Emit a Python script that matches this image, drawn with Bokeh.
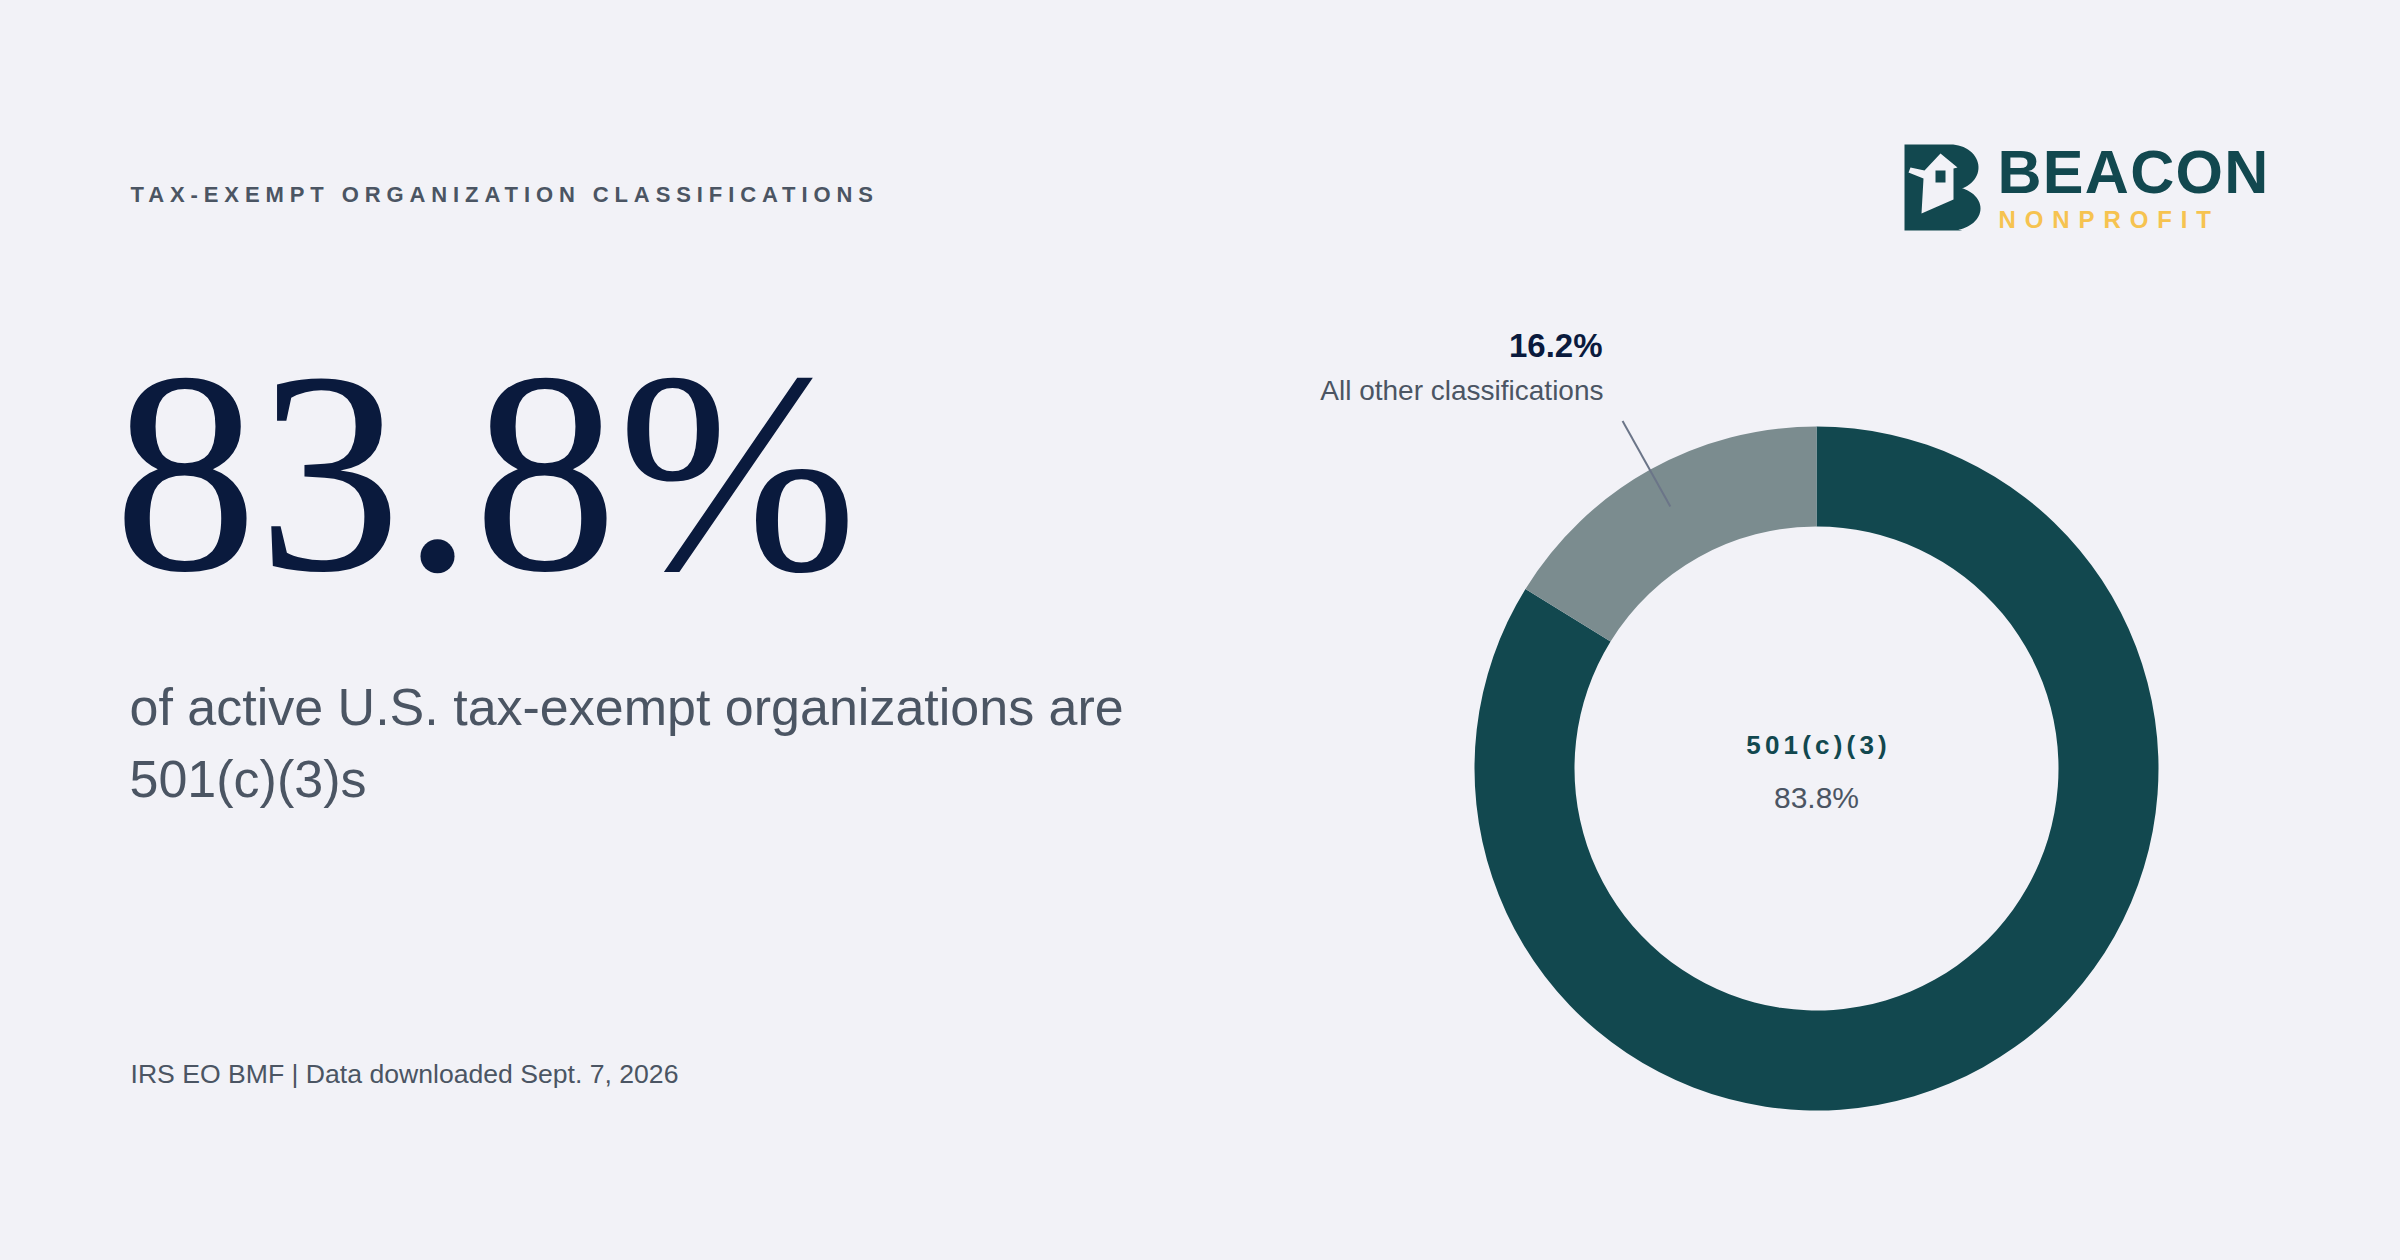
import numpy as np
from bokeh.plotting import figure
from bokeh.models import Range1d, CustomJS
from bokeh.core.properties import value
from bokeh.document import Document
from bokeh.embed import file_html
from bokeh.resources import INLINE

# ---------------- data ----------------
categories = ["501(c)(3)", "All other classifications"]
shares = [83.8, 16.2]
slice_colors = ["#12484f", "#7b8c8f"]

headline_value = shares[0]
title_text = "TAX-EXEMPT ORGANIZATION CLASSIFICATIONS"
subtitle_lines = ["of active U.S. tax-exempt organizations are", "501(c)(3)s"]
source_text = "IRS EO BMF | Data downloaded Sept. 7, 2026"
brand_name = "BEACON"
brand_sub = "NONPROFIT"

# ---------------- styling ----------------
W, H = 2384, 1244
BG = "#f2f2f7"
NAVY = "#0a1a3d"
SLATE = "#4b5563"
TEAL = "#12484f"
GOLD = "#f6c350"
SANS = value("Liberation Sans")
SERIF = value("Liberation Serif")
BASE_FIX = 0.35  # baseline correction (in em) for svg text placement

p = figure(width=W, height=H, x_range=Range1d(0, W), y_range=Range1d(0, H),
           output_backend="svg", toolbar_location=None, min_border=0,
           background_fill_color=BG, border_fill_color=BG)
p.axis.visible = False
p.grid.visible = False
p.outline_line_color = None


def X(ref_x):
    return ref_x


def Y(ref_y):
    return H - ref_y


def TY(ref_y, fs):
    # text baseline row -> figure y
    return H - ref_y + BASE_FIX * fs


def label(x, y, txt, fs, color, bold=False, align="left", font=SANS):
    p.text(x=x, y=[TY(v, fs) for v in y], text=txt, text_font=font,
           text_font_size=value(f"{fs}px"), text_font_style="bold" if bold else "normal",
           text_color=color, text_align=align, text_baseline="alphabetic")


# ---------------- donut ----------------
cx, cy = X(1816), Y(768)
r_in, r_out = 242, 342
frac = np.array(shares) / np.sum(shares)
order = list(range(len(shares)))[::-1]  # counter-clockwise from 12 o'clock
starts = np.zeros(len(shares))
ends = np.zeros(len(shares))
a = np.pi / 2
for i in order:
    starts[i] = a
    a = a + 2 * np.pi * frac[i]
    ends[i] = a

p.annular_wedge(x=[cx] * len(shares), y=[cy] * len(shares), inner_radius=r_in, outer_radius=r_out,
                start_angle=list(starts), end_angle=list(ends), direction="anticlock",
                fill_color=slice_colors, line_color=None)

mid = (starts[1] + ends[1]) / 2
rr = np.array([300, 398])
p.line(x=cx + rr * np.cos(mid), y=cy + rr * np.sin(mid), line_color="#6b7588", line_width=2)

label([X(1602)], [357], [f"{shares[1]:.1f}%"], 33, NAVY, bold=True, align="right")
label([X(1603)], [400], [categories[1]], 28, SLATE, align="right")

CENTER_SP = 4.2
label([cx - 8 * CENTER_SP / 2], [754], [categories[0]], 26, TEAL, bold=True, align="center")
label([cx], [807], [f"{shares[0]:.1f}%"], 30, SLATE, align="center")

# ---------------- left column text ----------------
label([X(130)], [202], [title_text], 22, SLATE, bold=True)
label([X(113)], [572], [f"{headline_value:.1f}%"], 288, NAVY, font=SERIF)
label([X(129), X(129)], [725, 797], subtitle_lines, 52, SLATE)
label([X(130)], [1083], [source_text], 26.6, SLATE)

# ---------------- logo ----------------
t = np.linspace(-np.pi / 2, np.radians(70), 30)
top_lobe = [(1950 + 28 * np.cos(v), 167 + 23 * np.sin(v)) for v in t]
t2 = np.linspace(np.radians(-70), np.radians(75), 30)
bot_lobe = [(1950 + 30 * np.cos(v), 208 + 22 * np.sin(v)) for v in t2]
b_pts = [(1904, 144), (1950, 144)] + top_lobe + [(1961, 188)] + bot_lobe + [(1962, 230), (1904, 230)]
p.patch(x=[X(u) for u, _ in b_pts], y=[Y(v) for _, v in b_pts], fill_color=TEAL, line_color=None)

house = [(1940, 153), (1957, 167), (1953, 168), (1953, 199), (1921, 213), (1923, 178),
         (1908, 172), (1910, 167), (1924, 170)]
p.patch(x=[X(u) for u, _ in house], y=[Y(v) for _, v in house], fill_color=BG, line_color=None)
win = [(1935, 170), (1945, 170), (1945, 182), (1935, 182)]
p.patch(x=[X(u) for u, _ in win], y=[Y(v) for _, v in win], fill_color=TEAL, line_color=None)

label([X(1997)], [193], [brand_name], 61, TEAL, bold=True)
label([X(1998)], [227], [brand_sub], 24, GOLD, bold=True)

# ---------------- page styling (background + letter spacing) ----------------
spacing = [[title_text, "5.9px"], [categories[0], f"{CENTER_SP}px"], [brand_sub, "8.9px"],
           [brand_name, "1.3px"]]
js = """
const specs = spacing;
function walk(root) {
  for (const t of root.querySelectorAll('text')) {
    for (const s of specs) {
      if (t.textContent === s[0] && t.style.letterSpacing !== s[1]) { t.style.letterSpacing = s[1]; }
    }
  }
  for (const e of root.querySelectorAll('*')) { if (e.shadowRoot) { walk(e.shadowRoot); } }
}
document.documentElement.style.background = bg;
document.body.style.background = bg;
walk(document);
setInterval(() => walk(document), 100);
"""
doc = Document()
doc.add_root(p)
try:
    doc.js_on_event("document_ready", CustomJS(args=dict(spacing=spacing, bg=BG), code=js))
except Exception:
    pass

open("out.html", "w").write(file_html(p, INLINE))
